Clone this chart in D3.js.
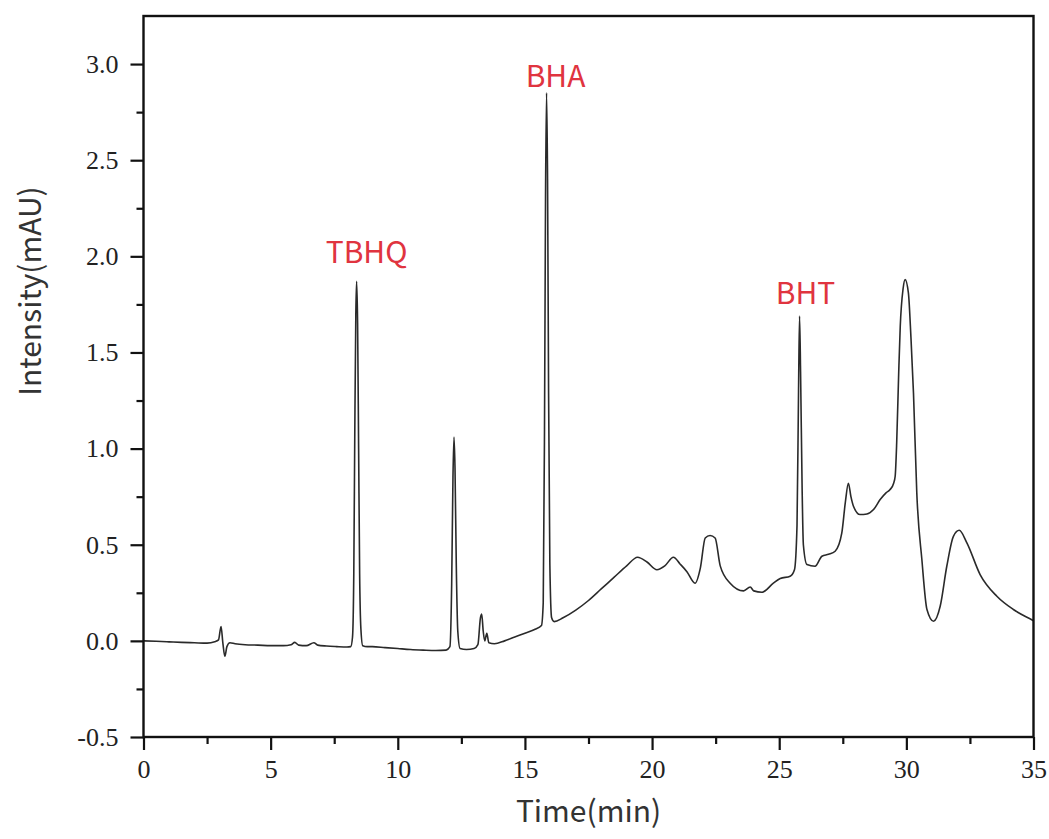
<!DOCTYPE html>
<html><head><meta charset="utf-8">
<script src="https://cdn.jsdelivr.net/npm/d3@7"></script>
<style>body{margin:0;background:#fff}svg{display:block}</style>
</head><body>
<svg id="c" width="1049" height="839"></svg>
<script>
// Retention time (min)
const time = [0,0.5,1,1.5,2,2.5,2.8,2.95,3.05,3.12,3.2,3.28,3.4,3.6,4,4.5,5,5.5,5.8,5.95,6.1,6.4,6.7,6.85,7.2,7.6,8,8.15,8.22,8.27,8.31,8.35,8.38,8.42,8.46,8.5,8.55,8.62,8.8,9,9.5,10,10.5,11,11.5,11.9,12.05,12.12,12.17,12.21,12.25,12.3,12.36,12.45,12.7,13,13.15,13.25,13.3,13.36,13.42,13.5,13.58,13.8,14.2,14.6,15,15.4,15.65,15.72,15.77,15.81,15.85,15.89,15.93,15.98,16.05,16.15,16.5,17,17.5,18,18.5,19,19.43,19.8,20.19,20.5,20.84,21.1,21.37,21.69,21.9,22.09,22.28,22.48,22.68,23.07,23.6,23.86,24,24.32,24.77,25.04,25.43,25.6,25.7,25.76,25.8,25.84,25.9,25.95,26.09,26.41,26.68,26.94,27.2,27.46,27.6,27.72,27.82,27.92,28.18,28.45,28.71,28.97,29.2,29.36,29.5,29.56,29.62,29.7,29.76,29.87,29.95,30.08,30.18,30.28,30.41,30.61,30.81,31.07,31.33,31.59,31.85,32.08,32.38,32.9,33.56,34.21,34.93,35];
// Intensity (mAU)
const intensity = [0,-0.002,-0.005,-0.008,-0.01,-0.012,-0.005,0.005,0.075,-0.01,-0.08,-0.03,-0.01,-0.015,-0.02,-0.022,-0.025,-0.025,-0.02,-0.008,-0.022,-0.025,-0.01,-0.022,-0.027,-0.03,-0.032,-0.03,0.02,0.35,1.1,1.7,1.87,1.65,1.0,0.35,0.06,-0.025,-0.03,-0.03,-0.035,-0.04,-0.045,-0.048,-0.05,-0.048,-0.03,0.3,0.85,1.06,0.9,0.4,0.05,-0.04,-0.045,-0.04,-0.02,0.12,0.14,0.05,0.0,0.04,-0.01,-0.015,0.0,0.02,0.04,0.06,0.08,0.2,1.1,2.3,2.85,2.4,1.3,0.4,0.12,0.1,0.12,0.16,0.21,0.27,0.33,0.39,0.435,0.41,0.37,0.39,0.435,0.4,0.36,0.3,0.38,0.535,0.548,0.535,0.39,0.30,0.26,0.28,0.26,0.253,0.30,0.324,0.336,0.37,0.6,1.3,1.69,1.4,0.8,0.5,0.397,0.388,0.44,0.45,0.466,0.56,0.72,0.82,0.75,0.70,0.657,0.66,0.683,0.735,0.77,0.787,0.82,0.856,1.03,1.4,1.636,1.83,1.879,1.81,1.58,1.29,0.77,0.423,0.163,0.102,0.18,0.388,0.544,0.575,0.51,0.345,0.232,0.163,0.11,0.105];
const xTicks = [0,5,10,15,20,25,30,35];
const xMinor = [2.5,7.5,12.5,17.5,22.5,27.5,32.5];
const yTicks = [-0.5,0,0.5,1,1.5,2,2.5,3];
const yMinor = [-0.25,0.25,0.75,1.25,1.75,2.25,2.75];
const peakNames = ["TBHQ","BHA","BHT"];
const peakTimes = [8.38,15.85,25.8];
const peakHeights = [1.87,2.85,1.69];

const svg = d3.select("#c");
const L = 143.5, R = 1033.5, T = 16, B = 737;
const x = d3.scaleLinear().domain([0,35]).range([L,R]);
const y = d3.scaleLinear().domain([-0.5,3.25]).range([B,T]);

svg.append("defs").append("clipPath").attr("id","clip")
  .append("rect").attr("x",L).attr("y",T).attr("width",R-L).attr("height",B-T);

const data = time.map((t,i)=>[t,intensity[i]]);
svg.append("path").datum(data)
  .attr("clip-path","url(#clip)")
  .attr("fill","none").attr("stroke","#2a2a2a").attr("stroke-width",1.6)
  .attr("stroke-linejoin","round")
  .attr("d", d3.line().x(d=>x(d[0])).y(d=>y(d[1])).curve(d3.curveMonotoneX));

const serif = "'Liberation Serif','Times New Roman',serif";
function styleAxis(g){
  g.select(".domain").remove();
  g.selectAll("line").attr("stroke","#111").attr("stroke-width",2.2);
  g.selectAll("text").attr("font-family",serif).attr("font-size",26).attr("fill","#222");
}
svg.append("g").attr("transform",`translate(0,${B})`)
  .call(d3.axisBottom(x).tickValues(xTicks).tickSize(13).tickPadding(10).tickFormat(d=>d))
  .call(styleAxis);
svg.append("g").attr("transform",`translate(0,${B})`)
  .call(d3.axisBottom(x).tickValues(xMinor).tickSize(7).tickFormat(""))
  .call(styleAxis);
svg.append("g").attr("transform",`translate(${L},0)`)
  .call(d3.axisLeft(y).tickValues(yTicks).tickSize(13).tickPadding(12).tickFormat(d=>d.toFixed(1)))
  .call(styleAxis);
svg.append("g").attr("transform",`translate(${L},0)`)
  .call(d3.axisLeft(y).tickValues(yMinor).tickSize(7).tickFormat(""))
  .call(styleAxis);

svg.append("rect").attr("x",L).attr("y",T).attr("width",R-L).attr("height",B-T)
  .attr("fill","none").attr("stroke","#111").attr("stroke-width",2.4);

const sans = "'Noto Sans CJK SC','Noto Sans',sans-serif";
svg.append("text").attr("x",(L+R)/2).attr("y",822).attr("text-anchor","middle")
  .attr("font-family",sans).attr("font-size",30).attr("fill","#333").text("Time(min)");
svg.append("text").attr("transform","translate(41,291) rotate(-90)").attr("text-anchor","middle")
  .attr("font-family",sans).attr("font-size",30).attr("fill","#333").text("Intensity(mAU)");

svg.selectAll(".pk").data(peakNames).enter().append("text")
  .attr("x",(d,i)=>x(peakTimes[i]) + [10,9,6][i])
  .attr("y",(d,i)=>y(peakHeights[i]) - [18,6,12][i])
  .attr("text-anchor","middle").attr("font-family",sans).attr("font-size",30)
  .attr("fill","#e0343f").text(d=>d);
</script>
</body></html>
